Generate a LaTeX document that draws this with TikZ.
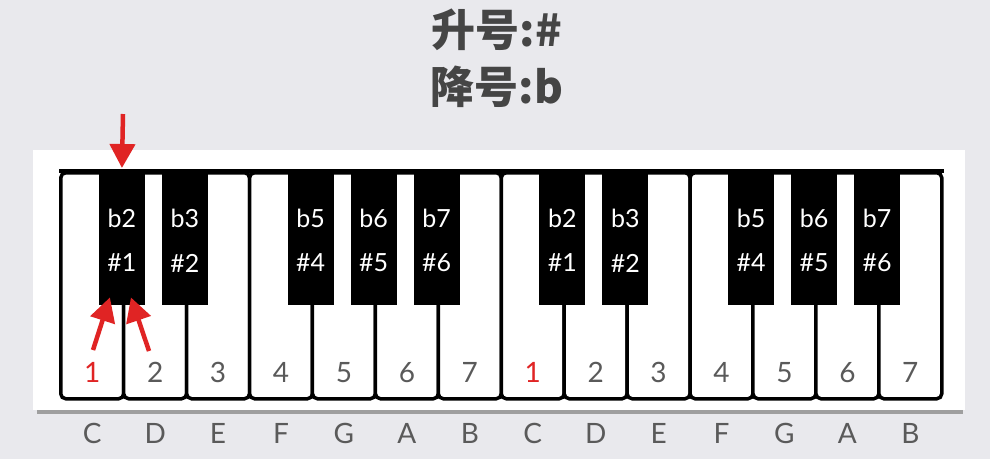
\documentclass[tikz,border=0pt]{standalone}
\usepackage{fontspec}
\usepackage{tikz}
\usetikzlibrary{arrows.meta}
\usetikzlibrary{positioning}
\setmainfont{Lato}
\newfontfamily\cjk{Noto Sans CJK SC}
\definecolor{bgcol}{HTML}{E9E9ED}
\definecolor{titlecol}{HTML}{454545}
\definecolor{numcol}{HTML}{5A5A5A}
\definecolor{redmark}{HTML}{E02424}
\tikzstyle{whitekey}=[draw=black, fill=white, line width=3.5pt, rounded corners=5pt, anchor=north west, minimum width=62.93pt, minimum height=226pt, inner sep=0pt]
\tikzstyle{blackkey}=[fill=black, anchor=north, minimum width=46pt, minimum height=134pt, inner sep=0pt]
\tikzstyle{keytext}=[text=white, font=\fontsize{25}{25}\selectfont]
\tikzstyle{numtext}=[font=\fontsize{28}{28}\selectfont]
\tikzstyle{redarrow}=[-{Triangle[length=24pt,width=25pt]}, line width=4.5pt, draw=redmark, fill=redmark]
\begin{document}
\begin{tikzpicture}[x=1pt, y=-1pt]
        \fill[bgcol] (0,0) rectangle (990,459);
        \useasboundingbox (0,0) rectangle (990,459);
        % title
        \node[text=titlecol, font=\cjk\bfseries\fontsize{44}{44}\selectfont] (sharp) at (497,30) {升号:\#};
        \node[text=titlecol, font=\cjk\bfseries\fontsize{44}{44}\selectfont] (flat) at (497,87) {降号:b};
        % card
        \fill[gray!75] (37,409) rectangle (963,414);
        \fill[white] (33,150) rectangle (965,410);
        % white keys
        \foreach \i/\num/\nm/\col in {0/1/C/redmark,1/2/D/numcol,2/3/E/numcol,3/4/F/numcol,4/5/G/numcol,5/6/A/numcol,6/7/B/numcol,7/1/C/redmark,8/2/D/numcol,9/3/E/numcol,10/4/F/numcol,11/5/G/numcol,12/6/A/numcol,13/7/B/numcol} {
          \node[whitekey] (w\i) at (59+\i*62.93,171) {};
          \node[numtext, text=\col] (n\i) at ([yshift=28pt]w\i.south) {\num};
          \node[numtext, text=numcol] (l\i) at ([yshift=-33pt]w\i.south) {\nm};
        }
        \draw[line width=3.5pt] (w0.north west) -- (w13.north east);
        % black keys
        \foreach \i/\fl/\sh in {0/2/1,1/3/2,3/5/4,4/6/5,5/7/6,7/2/1,8/3/2,10/5/4,11/6/5,12/7/6} {
          \node[blackkey] (k\i) at (59+\i*62.93+62.93,171) {};
          \node[keytext] at ([yshift=-47pt]k\i.north) {b\fl};
          \node[keytext] at ([yshift=-92pt]k\i.north) {\#\sh};
        }
        % arrows
        \coordinate (down) at (123,114);
        \coordinate (upl) at (93,350);
        \coordinate (upr) at (149,351);
        \draw[redarrow] (down) -- ([yshift=3pt]k0.north);
        \draw[redarrow] (upl) -- ([xshift=-12pt,yshift=8pt]k0.south);
        \draw[redarrow] (upr) -- ([xshift=9pt,yshift=8pt]k0.south);
      \end{tikzpicture}
\end{document}
